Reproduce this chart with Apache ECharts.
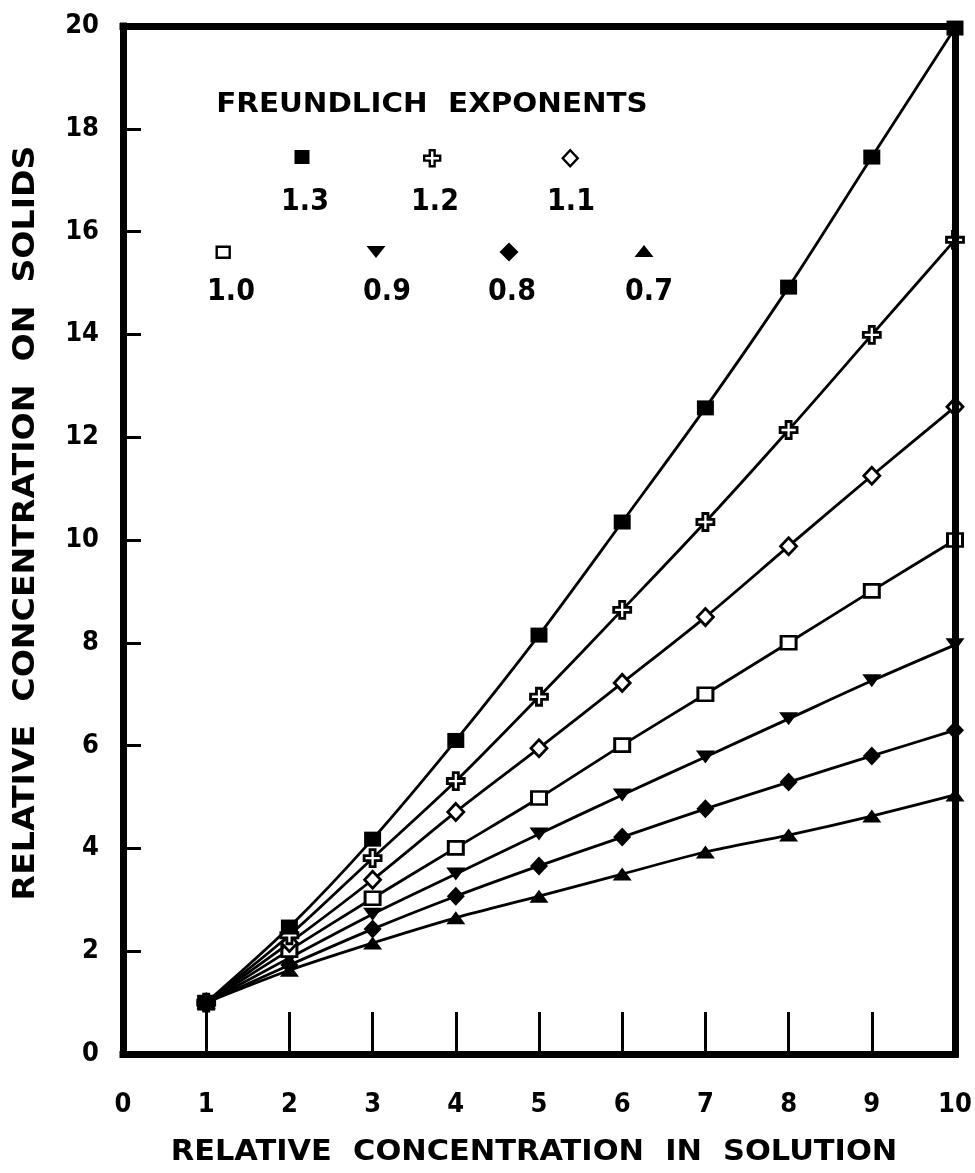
<!DOCTYPE html>
<html>
<head>
<meta charset="utf-8">
<title>Freundlich isotherms</title>
<script src="https://cdn.jsdelivr.net/npm/echarts@6/dist/echarts.min.js"></script>
<style>
  html, body { margin: 0; padding: 0; background: #fff; }
  #chart { width: 975px; height: 1173px; }
</style>
</head>
<body>
<div id="chart"></div>
<script>
// Relative concentration in solution (x)
const xValues = [1, 2, 3, 4, 5, 6, 7, 8, 9, 10];

// Relative concentration on solids for each Freundlich exponent
const exponents = ['1.3', '1.2', '1.1', '1.0', '0.9', '0.8', '0.7'];
const solids13 = [1.00, 2.47, 4.18, 6.10, 8.15, 10.35, 12.57, 14.92, 17.45, 19.96];
const solids12 = [1.00, 2.31, 3.81, 5.31, 6.95, 8.64, 10.35, 12.14, 13.99, 15.84];
const solids11 = [1.00, 2.16, 3.39, 4.71, 5.95, 7.22, 8.50, 9.88, 11.25, 12.59];
const solids10 = [1.00, 2.02, 3.03, 4.01, 4.98, 6.01, 7.00, 8.00, 9.01, 10.00];
const solids09 = [1.00, 1.87, 2.72, 3.50, 4.28, 5.04, 5.78, 6.52, 7.26, 7.96];
const solids08 = [1.00, 1.73, 2.43, 3.07, 3.66, 4.22, 4.77, 5.29, 5.80, 6.30];
const solids07 = [1.00, 1.63, 2.16, 2.65, 3.07, 3.50, 3.93, 4.26, 4.63, 5.04];

// Axis tick labels
const xTickLabels = ['0', '1', '2', '3', '4', '5', '6', '7', '8', '9', '10'];
const yTickLabels = ['0', '2', '4', '6', '8', '10', '12', '14', '16', '18', '20'];

const seriesValues = [solids13, solids12, solids11, solids10, solids09, solids08, solids07];

const BLACK = '#000';
const CROSS = 'path://M3.5,0 H6.5 V3.5 H10 V6.5 H6.5 V10 H3.5 V6.5 H0 V3.5 H3.5 Z';
const DOWN_TRI = 'path://M0,0 L10,0 L5,7 Z';
const UP_TRI = 'path://M5,0 L10,7 L0,7 Z';

// Marker style per exponent; legend = [centre x, centre y, width, height]
const markerStyles = [
  { symbol: 'rect',     size: [17, 15], fill: BLACK,  border: 0,   legend: [302, 157, 15, 14] },
  { symbol: CROSS,      size: [17, 17], fill: '#fff', border: 2.8, legend: [431, 157, 16, 16] },
  { symbol: 'diamond',  size: [16, 17], fill: '#fff', border: 2.8, legend: [569, 157, 15, 16] },
  { symbol: 'rect',     size: [15, 13], fill: '#fff', border: 2.8, legend: [222, 251, 13, 11] },
  { symbol: DOWN_TRI,   size: [19, 13], fill: BLACK,  border: 0,   legend: [376, 252, 19, 12] },
  { symbol: 'diamond',  size: [18, 19], fill: BLACK,  border: 0,   legend: [509, 252, 19, 19] },
  { symbol: UP_TRI,     size: [19, 13], fill: BLACK,  border: 0,   legend: [644, 251, 19, 12] }
];

// Number labels under each legend marker
const legendLabelPos = [[305, 202], [435, 202], [571, 202], [231, 292], [387, 292], [512, 292], [649, 292]];

const series = exponents.map((name, i) => ({
  name: name,
  type: 'line',
  data: xValues.map((x, j) => [x, seriesValues[i][j]]),
  smooth: 0.3,
  clip: false,
  symbol: markerStyles[i].symbol,
  symbolSize: markerStyles[i].size,
  symbolKeepAspect: false,
  showAllSymbol: true,
  lineStyle: { color: BLACK, width: 2.8 },
  itemStyle: {
    color: markerStyles[i].fill,
    borderColor: BLACK,
    borderWidth: markerStyles[i].border
  },
  emphasis: { disabled: true },
  z: 2 + (exponents.length - i) * 0.01
}));

// One legend block per exponent so each marker sits above its own label
const legends = exponents.map((name, i) => {
  const [cx, cy, w, h] = markerStyles[i].legend;
  return {
    data: [{ name: name, icon: markerStyles[i].symbol }],
    left: cx - w / 2,
    top: cy - h / 2,
    padding: 0,
    itemGap: 0,
    itemWidth: w,
    itemHeight: h,
    selectedMode: false,
    symbolKeepAspect: false,
    formatter: function () { return ''; },
    textStyle: { fontSize: 6 },
    itemStyle: {
      color: markerStyles[i].fill,
      borderColor: BLACK,
      borderWidth: markerStyles[i].border ? 2.4 : 0
    }
  };
});

const tickFont = 'DejaVu Sans Condensed';
const titleFont = 'DejaVu Sans';

// The heavy frame is drawn on its own layer so it sits over the edge markers
const frameLine = { show: true, onZero: false, lineStyle: { color: BLACK, width: 7, cap: 'square' } };

const option = {
  backgroundColor: '#fff',
  animation: false,
  grid: { left: 123, right: 20, top: 26, bottom: 119, outerBoundsMode: 'none', containLabel: false },
  legend: legends,
  xAxis: [
    {
      type: 'value', min: 0, max: 10, interval: 1, position: 'bottom', zlevel: 1, z: 5,
      splitLine: { show: false },
      axisLine: frameLine,
      axisTick: { show: true, inside: true, length: 42, lineStyle: { color: BLACK, width: 3 } },
      axisLabel: {
        margin: 37, color: BLACK, fontFamily: tickFont, fontWeight: 'bold', fontSize: 27,
        formatter: (v) => xTickLabels[Math.round(v)]
      }
    },
    {
      type: 'value', min: 0, max: 10, interval: 1, position: 'top', zlevel: 1, z: 5,
      splitLine: { show: false }, axisLine: frameLine,
      axisTick: { show: false }, axisLabel: { show: false }
    }
  ],
  yAxis: [
    {
      type: 'value', min: 0, max: 20, interval: 2, position: 'left', zlevel: 1, z: 5,
      splitLine: { show: false },
      axisLine: frameLine,
      axisTick: { show: true, inside: true, length: 18, lineStyle: { color: BLACK, width: 3 } },
      axisLabel: {
        margin: 24, color: BLACK, fontFamily: tickFont, fontWeight: 'bold', fontSize: 27,
        formatter: (v) => yTickLabels[Math.round(v / 2)]
      }
    },
    {
      type: 'value', min: 0, max: 20, interval: 2, position: 'right', zlevel: 1, z: 5,
      splitLine: { show: false }, axisLine: frameLine,
      axisTick: { show: false }, axisLabel: { show: false }
    }
  ],
  series: series,
  graphic: [
    {
      type: 'text', x: 534, y: 1153, scaleX: 1.106, silent: true,
      style: {
        text: 'RELATIVE  CONCENTRATION  IN  SOLUTION',
        font: 'bold 27.5px "' + titleFont + '"', fill: BLACK,
        align: 'center', verticalAlign: 'middle'
      }
    },
    {
      type: 'text', x: 26, y: 523, rotation: Math.PI / 2, scaleX: 1.105, silent: true,
      style: {
        text: 'RELATIVE  CONCENTRATION  ON  SOLIDS',
        font: 'bold 30px "' + titleFont + '"', fill: BLACK,
        align: 'center', verticalAlign: 'middle'
      }
    },
    {
      type: 'text', x: 432, y: 105, scaleX: 1.13, silent: true,
      style: {
        text: 'FREUNDLICH  EXPONENTS',
        font: 'bold 26px "' + titleFont + '"', fill: BLACK,
        align: 'center', verticalAlign: 'middle'
      }
    }
  ].concat(exponents.map((name, i) => ({
    type: 'text', x: legendLabelPos[i][0], y: legendLabelPos[i][1], silent: true,
    style: {
      text: name,
      font: 'bold 30px "' + tickFont + '"', fill: BLACK,
      align: 'center', verticalAlign: 'middle'
    }
  })))
};

const chart = echarts.init(document.getElementById('chart'), null, { renderer: 'canvas' });
chart.setOption(option);
</script>
</body>
</html>
